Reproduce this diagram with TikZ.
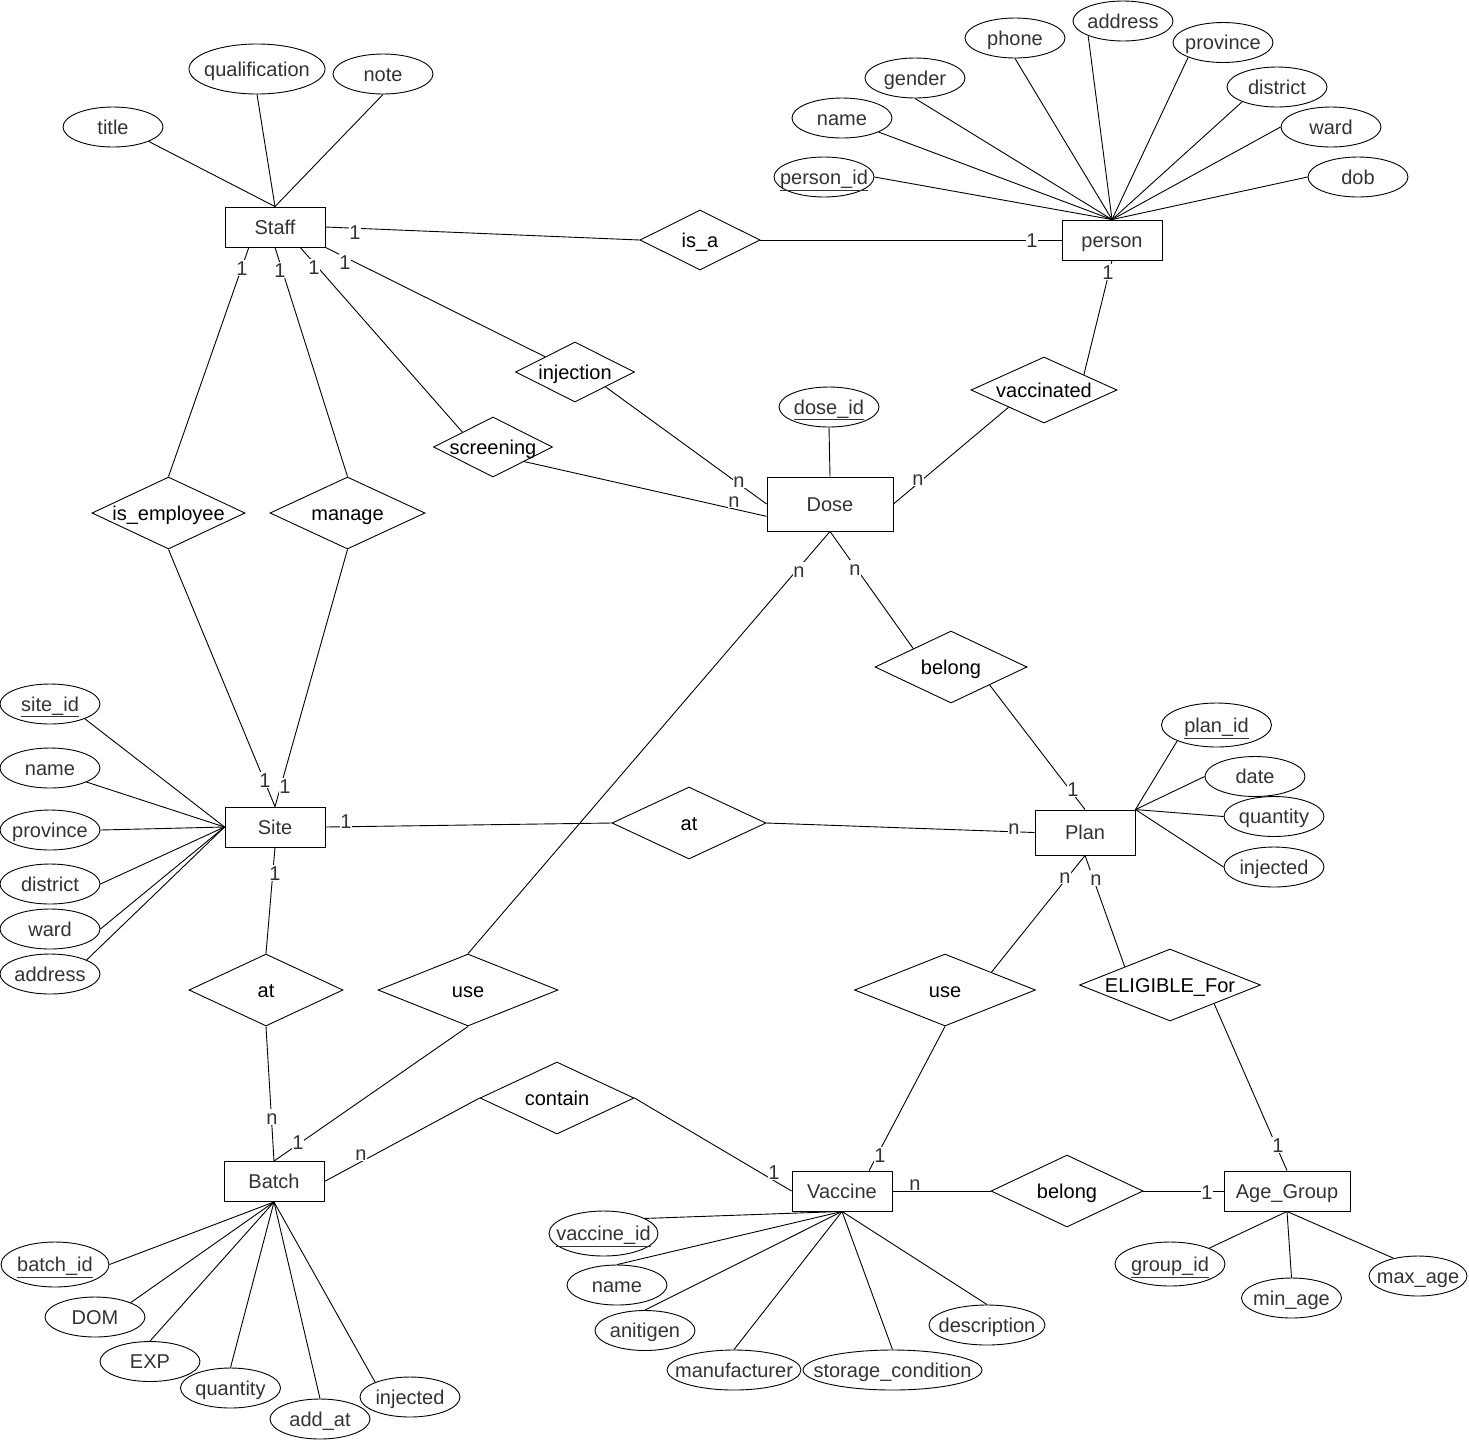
\documentclass[tikz,border=0pt]{standalone}
\usepackage{fontspec}
\setmainfont{Liberation Sans}
\usetikzlibrary{shapes.geometric,calc}
\definecolor{txtgray}{HTML}{333333}
\newcommand{\zt}[1]{\makebox[0pt][c]{#1}}
\begin{document}
\begin{tikzpicture}[x=1pt,y=-1pt,
  every node/.style={font=\fontsize{20pt}{24pt}\selectfont},
  ent/.style={draw, rectangle, line width=0.9pt, inner sep=0pt, minimum width=100pt, minimum height=40pt, text=txtgray, text height=17pt, text depth=2.7pt},
  attr/.style={draw, ellipse, line width=0.9pt, inner sep=0pt, minimum width=100pt, minimum height=40pt, text=txtgray, text height=17pt, text depth=2.7pt},
  rel/.style={draw, diamond, line width=0.9pt, inner sep=0pt, minimum width=154pt, minimum height=72pt, text=black, text height=17pt, text depth=2.7pt},
  card/.style={fill=white, inner sep=0.6pt, text=txtgray, text height=14.5pt, text depth=0pt},
  conn/.style={line width=0.9pt}]
\useasboundingbox (0,0) rectangle (1469,1441);

% ---------- entities ----------
\node[ent] (Staff) at (275,227) {Staff};
\node[ent] (person) at (1112,240) {person};
\node[ent, minimum width=126pt, minimum height=54pt] (Dose) at (830,504) {Dose};
\node[ent] (Site) at (275,827) {Site};
\node[ent, minimum height=45pt] (Plan) at (1085,832.5) {Plan};
\node[ent] (Batch) at (274,1181.5) {Batch};
\node[ent] (Vaccine) at (842,1191) {Vaccine};
\node[ent, minimum width=126pt] (Age) at (1287,1191) {Age\_Group};

% ---------- relationships ----------
\node[rel, minimum width=120pt, minimum height=60pt] (isa) at (700,240) {\zt{is\_a}};
\node[rel, minimum width=119pt, minimum height=60pt] (injection) at (575,372) {\zt{injection}};
\node[rel, minimum width=119pt, minimum height=60pt] (screening) at (493,447) {\zt{screening}};
\node[rel, minimum width=146pt, minimum height=66pt] (vacc) at (1044,390) {\zt{vaccinated}};
\node[rel, minimum width=153pt] (isemp) at (168.5,513) {\zt{is\_employee}};
\node[rel, minimum width=155pt] (manage) at (347.5,513) {\zt{manage}};
\node[rel, minimum width=152pt] (belong1) at (951,667) {\zt{belong}};
\node[rel] (at1) at (689,823) {\zt{at}};
\node[rel] (at2) at (266,990) {\zt{at}};
\node[rel, minimum width=180pt] (use1) at (468,990) {\zt{use}};
\node[rel, minimum width=181pt] (use2) at (945,990) {\zt{use}};
\node[rel, minimum width=181pt] (elig) at (1170,985) {\zt{ELIGIBLE\_For}};
\node[rel] (contain) at (557,1098) {\zt{contain}};
\node[rel, minimum width=152pt] (belong2) at (1067,1191) {\zt{belong}};

% ---------- attributes ----------
\node[attr] (title) at (113,127) {\zt{title}};
\node[attr, minimum width=136pt, minimum height=50pt] (qual) at (257,69) {\zt{qualification}};
\node[attr] (note) at (383,74) {\zt{note}};

\node[attr] (pid) at (824,177) {\zt{\underline{person\_id}}};
\node[attr] (pname) at (842,118) {\zt{name}};
\node[attr] (gender) at (915,78) {\zt{gender}};
\node[attr] (phone) at (1015,38) {\zt{phone}};
\node[attr] (paddr) at (1123,21) {\zt{address}};
\node[attr] (pprov) at (1223,42.5) {\zt{province}};
\node[attr] (pdist) at (1277,87) {\zt{district}};
\node[attr] (pward) at (1331,127) {\zt{ward}};
\node[attr] (dob) at (1358,177) {\zt{dob}};

\node[attr] (doseid) at (829,407) {\zt{\underline{dose\_id}}};

\node[attr] (sid) at (50,704) {\zt{\underline{site\_id}}};
\node[attr] (sname) at (50,768) {\zt{name}};
\node[attr] (sprov) at (50,830) {\zt{province}};
\node[attr] (sdist) at (50,884) {\zt{district}};
\node[attr] (sward) at (50,929) {\zt{ward}};
\node[attr] (saddr) at (50,974) {\zt{address}};

\node[attr, minimum width=110pt, minimum height=44pt] (planid) at (1216.5,725) {\zt{\underline{plan\_id}}};
\node[attr] (date) at (1255,776.5) {\zt{date}};
\node[attr] (pq) at (1274,816.5) {\zt{quantity}};
\node[attr] (pinj) at (1274,867) {\zt{injected}};

\node[attr, minimum width=108pt, minimum height=45pt] (bid) at (55,1264.5) {\zt{\underline{batch\_id}}};
\node[attr] (dom) at (95,1317) {\zt{DOM}};
\node[attr] (exp) at (150,1361.5) {\zt{EXP}};
\node[attr] (bq) at (230.5,1388) {\zt{quantity}};
\node[attr] (addat) at (320,1419) {\zt{add\_at}};
\node[attr] (binj) at (410,1397) {\zt{injected}};

\node[attr, minimum width=109pt, minimum height=45pt] (vid) at (603.5,1233.5) {\zt{\underline{vaccine\_id}}};
\node[attr] (vname) at (617,1285) {\zt{name}};
\node[attr] (anti) at (645,1330.5) {\zt{anitigen}};
\node[attr, minimum width=134pt] (manu) at (734,1370) {\zt{manufacturer}};
\node[attr, minimum width=179pt] (stor) at (892.5,1370) {\zt{storage\_condition}};
\node[attr, minimum width=116pt] (desc) at (987,1325) {\zt{description}};

\node[attr, minimum width=110pt, minimum height=44pt] (gid) at (1170,1264) {\zt{\underline{group\_id}}};
\node[attr] (minage) at (1291.5,1298) {\zt{min\_age}};
\node[attr, minimum width=98pt] (maxage) at (1418,1276) {\zt{max\_age}};

% ---------- attribute links ----------
\draw[conn] (title.338) -- (Staff.north);
\draw[conn] (qual.south) -- (Staff.north);
\draw[conn] (note.south) -- (Staff.north);

\draw[conn] (pid.east) -- (person.north);
\draw[conn] (pname.339) -- (person.north);
\draw[conn] (gender.south) -- (person.north);
\draw[conn] (phone.south) -- (person.north);
\draw[conn] (paddr.203) -- (person.north);
\draw[conn] (pprov.203) -- (person.north);
\draw[conn] (pdist.203) -- (person.north);
\draw[conn] (pward.west) -- (person.north);
\draw[conn] (dob.west) -- (person.north);

\draw[conn] (doseid.south) -- (Dose.north);

\draw[conn] (sid.337) -- (Site.west);
\draw[conn] (sname.339) -- (Site.west);
\draw[conn] (sprov.east) -- (Site.west);
\draw[conn] (sdist.east) -- (Site.west);
\draw[conn] (sward.east) -- (Site.west);
\draw[conn] (saddr.21) -- (Site.west);

\draw[conn] (planid.202) -- (Plan.north east);
\draw[conn] (date.west) -- (Plan.north east);
\draw[conn] (pq.west) -- (Plan.north east);
\draw[conn] (pinj.west) -- (Plan.north east);

\draw[conn] (bid.east) -- (Batch.south);
\draw[conn] (dom.22) -- (Batch.south);
\draw[conn] (exp.north) -- (Batch.south);
\draw[conn] (bq.north) -- (Batch.south);
\draw[conn] (addat.north) -- (Batch.south);
\draw[conn] (binj.157) -- (Batch.south);

\draw[conn] (vid.20) -- (Vaccine.south);
\draw[conn] (vname.north) -- (Vaccine.south);
\draw[conn] (anti.north) -- (Vaccine.south);
\draw[conn] (manu.north) -- (Vaccine.south);
\draw[conn] (stor.north) -- (Vaccine.south);
\draw[conn] (desc.north) -- (Vaccine.south);

\draw[conn] (gid.22) -- (Age.south);
\draw[conn] (minage.north) -- (Age.south);
\draw[conn] (maxage.144) -- (Age.south);

% ---------- relationship links ----------
\draw[conn] (Staff.east) -- (isa.west);
\draw[conn] (isa.east) -- (person.west);
\draw[conn] (Staff.218.7) -- (isemp.north);
\draw[conn] (Staff.south) -- (manage.north);
\draw[conn] (Staff.321.3) -- (screening.154);
\draw[conn] (Staff.south east) -- (injection.153);
\draw[conn] (injection.334) -- (Dose.west);
\draw[conn] (screening.335) -- (Dose.191.7);
\draw[conn] (person.south) -- (vacc.21.5);
\draw[conn] (vacc.206.6) -- (Dose.east);
\draw[conn] (Dose.south) -- (use1.north);
\draw[conn] (Dose.south) -- (belong1.154);
\draw[conn] (belong1.335) -- (Plan.north);
\draw[conn] (isemp.south) -- (Site.north);
\draw[conn] (manage.south) -- (Site.north);
\draw[conn] (Site.east) -- (at1.west);
\draw[conn] (at1.east) -- (Plan.west);
\draw[conn] (Site.south) -- (at2.north);
\draw[conn] (at2.south) -- (Batch.north);
\draw[conn] (use1.south) -- (Batch.north);
\draw[conn] (Batch.east) -- (contain.west);
\draw[conn] (contain.east) -- (Vaccine.west);
\draw[conn] (Plan.south) -- (use2.21.4);
\draw[conn] (Plan.south) -- (elig.158);
\draw[conn] (use2.south) -- (Vaccine.37.6);
\draw[conn] (elig.337.6) -- (Age.north);
\draw[conn] (Vaccine.east) -- (belong2.west);
\draw[conn] (belong2.east) -- (Age.west);

% ---------- cardinality labels ----------
\node[card] (c1) at (355,232) {1};
\node[card] (c2) at (1032,240) {1};
\node[card] (c3) at (242,268) {1};
\node[card] (c4) at (280,270) {1};
\node[card] (c5) at (314,267) {1};
\node[card] (c6) at (345,262) {1};
\node[card] (c7) at (1108,272) {1};
\node[card] (c8) at (739,480) {n};
\node[card] (c9) at (734,500) {n};
\node[card] (c10) at (918,478) {n};
\node[card] (c11) at (799,570) {n};
\node[card] (c12) at (855,568) {n};
\node[card] (c13) at (1073,789) {1};
\node[card] (c14) at (265,780) {1};
\node[card] (c15) at (285,786) {1};
\node[card] (c16) at (346,821) {1};
\node[card] (c17) at (1014,827) {n};
\node[card] (c18) at (275,873) {1};
\node[card] (c19) at (272,1117) {n};
\node[card] (c20) at (298,1142) {1};
\node[card] (c21) at (361,1153) {n};
\node[card] (c22) at (774,1172) {1};
\node[card] (c23) at (1065,876) {n};
\node[card] (c24) at (1096,878) {n};
\node[card] (c25) at (880,1155) {1};
\node[card] (c26) at (1278,1145) {1};
\node[card] (c27) at (915,1183) {n};
\node[card] (c28) at (1207,1192) {1};
\end{tikzpicture}
\end{document}
